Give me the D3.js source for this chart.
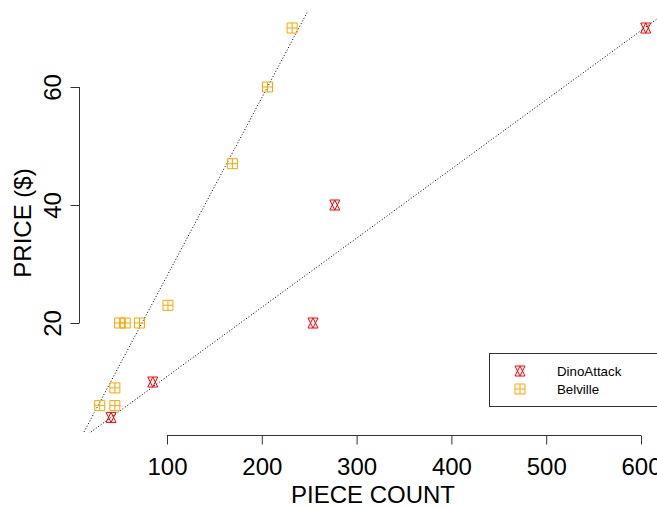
<!DOCTYPE html>
<html>
<head>
<meta charset="utf-8">
<script src="https://cdn.jsdelivr.net/npm/d3@7"></script>
<style>
  body { margin: 0; background: #fff; }
  text { font-family: "Liberation Sans", Arial, sans-serif; fill: #000; }
</style>
</head>
<body>
<div id="wrapper"></div>
<script>
// piece count / price per theme
const dinoPieces = [605, 277, 254, 85, 41];
const dinoPrice  = [70, 40, 20, 10, 4];
const belPieces  = [232, 206, 169, 101, 71, 56, 50, 45, 45, 29];
const belPrice   = [70, 60, 47, 23, 20, 20, 20, 9, 6, 6];
const xTicks = [100, 200, 300, 400, 500, 600];
const yTicks = [20, 40, 60];
const seriesNames = ["DinoAttack", "Belville"];
const seriesColors = ["#ff0000", "#ffa500"];

function buildPlot() {
    const width = 657, height = 508;

    const svg = d3.select("#wrapper").append("svg")
        .attr("width", width)
        .attr("height", height);

    const xScaler = d3.scaleLinear().domain([100, 600]).range([167, 641]);
    const yScaler = d3.scaleLinear().domain([20, 60]).range([323, 87]);

    // R style 4% padding on the data range = plot region
    const allX = dinoPieces.concat(belPieces), allY = dinoPrice.concat(belPrice);
    const [x0, x1] = d3.extent(allX), [y0, y1] = d3.extent(allY);
    const xlim = [x0 - 0.04 * (x1 - x0), x1 + 0.04 * (x1 - x0)];
    const ylim = [y0 - 0.04 * (y1 - y0), y1 + 0.04 * (y1 - y0)];

    svg.append("clipPath").attr("id", "plotclip")
        .append("rect")
        .attr("x", xScaler(xlim[0]))
        .attr("y", yScaler(ylim[1]))
        .attr("width", xScaler(xlim[1]) - xScaler(xlim[0]))
        .attr("height", yScaler(ylim[0]) - yScaler(ylim[1]));

    // least squares fit lines
    function fit(xs, ys) {
        const mx = d3.mean(xs), my = d3.mean(ys);
        const sxy = d3.sum(xs, (x, i) => (x - mx) * (ys[i] - my));
        const sxx = d3.sum(xs, x => (x - mx) * (x - mx));
        const b = sxy / sxx;
        return { a: my - b * mx, b: b };
    }
    const fits = [fit(dinoPieces, dinoPrice), fit(belPieces, belPrice)];
    const lineGen = d3.line().x(d => xScaler(d[0])).y(d => yScaler(d[1]));
    const g = svg.append("g").attr("clip-path", "url(#plotclip)");
    fits.forEach(f => {
        const xa = -200, xb = 1200;
        g.append("path")
            .attr("d", lineGen([[xa, f.a + f.b * xa], [xb, f.a + f.b * xb]]))
            .attr("fill", "none")
            .attr("stroke", "#000")
            .attr("stroke-width", 1)
            .attr("stroke-dasharray", "1,2");
    });

    // markers
    const triUpDown = "M0,-5L5,5L-5,5Z M0,5L5,-5L-5,-5Z";
    const sqPlus = "M-5,-5H5V5H-5Z M0,-5V5 M-5,0H5";
    const shapes = [triUpDown, sqPlus];

    const dinoData = dinoPieces.map((p, i) => [p, dinoPrice[i]]);
    const belData = belPieces.map((p, i) => [p, belPrice[i]]);

    [dinoData, belData].forEach((data, k) => {
        g.selectAll(null).data(data).enter().append("path")
            .attr("transform", d => `translate(${xScaler(d[0])},${yScaler(d[1])})`)
            .attr("d", shapes[k])
            .attr("fill", "none")
            .attr("stroke", seriesColors[k])
            .attr("stroke-width", 1);
    });

    // axes
    const xAxis = d3.axisBottom(xScaler).tickValues(xTicks).tickSize(9).tickSizeOuter(0);
    const yAxis = d3.axisLeft(yScaler).tickValues(yTicks).tickSize(9).tickSizeOuter(0).tickFormat(d => d);

    const gx = svg.append("g").attr("transform", "translate(0,435.5)").call(xAxis);
    gx.select(".domain").attr("d", `M${xScaler(100)},0H${xScaler(600)}`);
    gx.selectAll("text")
        .attr("font-size", 24)
        .attr("font-family", "Liberation Sans, Arial, sans-serif")
        .attr("dy", null)
        .attr("y", 39);

    const gy = svg.append("g").attr("transform", "translate(79.5,0)").call(yAxis);
    gy.select(".domain").attr("d", `M0,${yScaler(20)}V${yScaler(60)}`);
    gy.selectAll("text")
        .attr("font-size", 24)
        .attr("font-family", "Liberation Sans, Arial, sans-serif")
        .attr("text-anchor", "middle")
        .attr("x", null).attr("dy", null).attr("y", 0)
        .attr("transform", "translate(-18.5,0) rotate(-90)");

    svg.selectAll(".tick line, .domain").attr("stroke", "#333");

    // axis titles
    svg.append("text")
        .attr("x", 373).attr("y", 503)
        .attr("text-anchor", "middle")
        .attr("font-size", 24)
        .text("PIECE COUNT");
    svg.append("text")
        .attr("transform", "translate(31,223) rotate(-90)")
        .attr("text-anchor", "middle")
        .attr("font-size", 24)
        .text("PRICE ($)");

    // legend
    const leg = svg.append("g");
    leg.append("rect")
        .attr("x", 489.5).attr("y", 353.5)
        .attr("width", 200).attr("height", 53)
        .attr("fill", "#fff").attr("stroke", "#333");
    seriesNames.forEach((name, i) => {
        const yy = 371 + i * 18;
        leg.append("path")
            .attr("transform", `translate(520,${yy})`)
            .attr("d", shapes[i])
            .attr("fill", "none")
            .attr("stroke", seriesColors[i]);
        leg.append("text")
            .attr("x", 557).attr("y", yy + 4.5)
            .attr("font-size", 13.3)
            .text(name);
    });
}

buildPlot();
</script>
</body>
</html>
